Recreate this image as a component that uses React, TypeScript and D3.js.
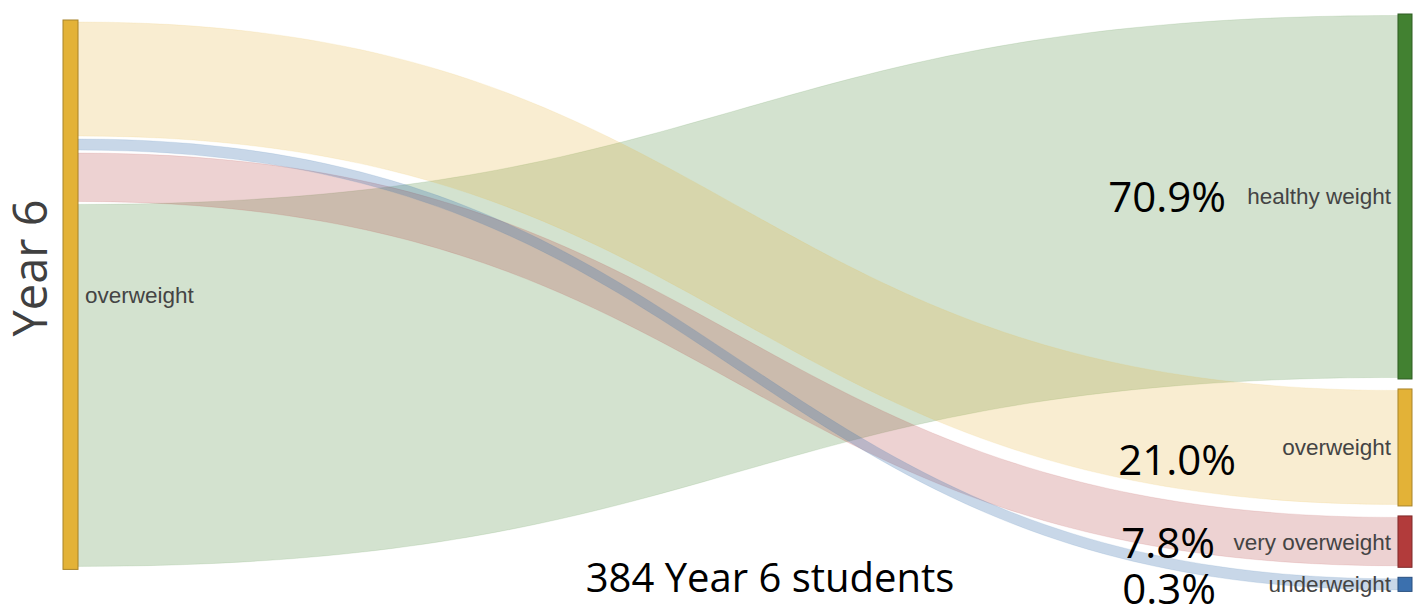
import React from "react";
import * as d3 from "d3";

const sourceLabel = "overweight";
const axisLabel = "Year 6";
const caption = "384 Year 6 students";
const targets = ["healthy weight", "overweight", "very overweight", "underweight"];
const percents = [70.9, 21.0, 7.8, 0.3];
const pctLabels = ["70.9%", "21.0%", "7.8%", "0.3%"];
const nodeColors = ["#428131", "#e3b237", "#b23b3b", "#3b70ae"];
const nodeStroke = ["#2e5c22", "#a8832a", "#7f2a2a", "#2a5080"];
// order of links leaving the source node (top to bottom)
const sourceOrder = [1, 3, 2, 0];
// drawing order of links (back to front)
const drawOrder = [0, 1, 2, 3];

const W = 1422;
const H = 606;

export default function App() {
  const nodeW = 15;
  const leftX = 63;
  const rightX = 1398;
  const rightTop = 14;
  const nodePad = 10;
  const leftTop = 20;
  const linkGap = 3;
  const linkInset = 1.5;

  // thickness scale (with constant minimum like the original renderer)
  const thick = d3.scaleLinear().domain([0, 100]).range([12.6, 12.6 + 497]);

  // right nodes
  const rightNodes: { y0: number; y1: number }[] = [];
  let y = rightTop;
  targets.forEach((_, i) => {
    const h = thick(percents[i]);
    rightNodes.push({ y0: y, y1: y + h });
    y += h + nodePad;
  });

  // left link positions
  const leftPos: number[] = new Array(targets.length).fill(0);
  let ly = leftTop + 2;
  sourceOrder.forEach((i, k) => {
    leftPos[i] = ly;
    ly += thick(percents[i]) - 2 * linkInset + (k < sourceOrder.length - 1 ? linkGap : 0);
  });
  const leftBottom = ly + 3;

  const x0 = leftX + nodeW;
  const x1 = rightX;
  const xm = (x0 + x1) / 2;

  const linkPath = (i: number) => {
    const w = thick(percents[i]) - 2 * linkInset;
    const a = leftPos[i];
    const b = rightNodes[i].y0 + linkInset;
    const p = d3.path();
    p.moveTo(x0, a);
    p.bezierCurveTo(xm, a, xm, b, x1, b);
    p.lineTo(x1, b + w);
    p.bezierCurveTo(xm, b + w, xm, a + w, x0, a + w);
    p.closePath();
    return p.toString();
  };

  const pctOffsets = [
    { x: -172, dy: 16 },
    { x: -162, dy: 27.5 },
    { x: -183, dy: 16 },
    { x: -182, dy: 20 },
  ];

  return (
    <svg
      width={W}
      height={H}
      style={{ position: "absolute", left: 0, top: 0, background: "#fff" }}
    >
      {drawOrder.map((i) => (
        <path
          key={"l" + i}
          d={linkPath(i)}
          fill={nodeColors[i]}
          fillOpacity={i === 3 ? 0.28 : 0.23}
          stroke={nodeColors[i]}
          strokeOpacity={0.12}
          strokeWidth={1}
        />
      ))}
      <rect
        x={leftX}
        y={leftTop}
        width={nodeW}
        height={leftBottom - leftTop}
        fill={nodeColors[1]}
        stroke={nodeStroke[1]}
        strokeWidth={1}
      />
      {targets.map((t, i) => (
        <rect
          key={"n" + i}
          x={rightX}
          y={rightNodes[i].y0}
          width={nodeW - 1}
          height={rightNodes[i].y1 - rightNodes[i].y0}
          fill={nodeColors[i]}
          stroke={nodeStroke[i]}
          strokeWidth={1}
        />
      ))}
      <text
        x={x0 + 7}
        y={(leftTop + leftBottom) / 2}
        dy="0.35em"
        fontFamily="'Liberation Sans', Arial, sans-serif"
        fontSize={22.5}
        fill="#444"
      >
        {sourceLabel}
      </text>
      {targets.map((t, i) => (
        <text
          key={"t" + i}
          x={rightX - 7}
          y={(rightNodes[i].y0 + rightNodes[i].y1) / 2}
          dy="0.35em"
          textAnchor="end"
          fontFamily="'Liberation Sans', Arial, sans-serif"
          fontSize={22.5}
          fill="#444"
        >
          {t}
        </text>
      ))}
      {targets.map((t, i) => (
        <text
          key={"p" + i}
          x={rightX + pctOffsets[i].x}
          y={(rightNodes[i].y0 + rightNodes[i].y1) / 2 + pctOffsets[i].dy}
          textAnchor="end"
          fontFamily="'Open Sans', sans-serif"
          fontSize={42}
          fill="#000"
        >
          {pctLabels[i]}
        </text>
      ))}
      <text
        transform={`translate(47, ${268}) rotate(-90)`}
        textAnchor="middle"
        fontFamily="'Open Sans', sans-serif"
        fontSize={47}
        fill="#404040"
      >
        {axisLabel}
      </text>
      <text
        x={770}
        y={592}
        textAnchor="middle"
        fontFamily="'Open Sans', sans-serif"
        fontSize={40}
        fill="#000"
      >
        {caption}
      </text>
    </svg>
  );
}
